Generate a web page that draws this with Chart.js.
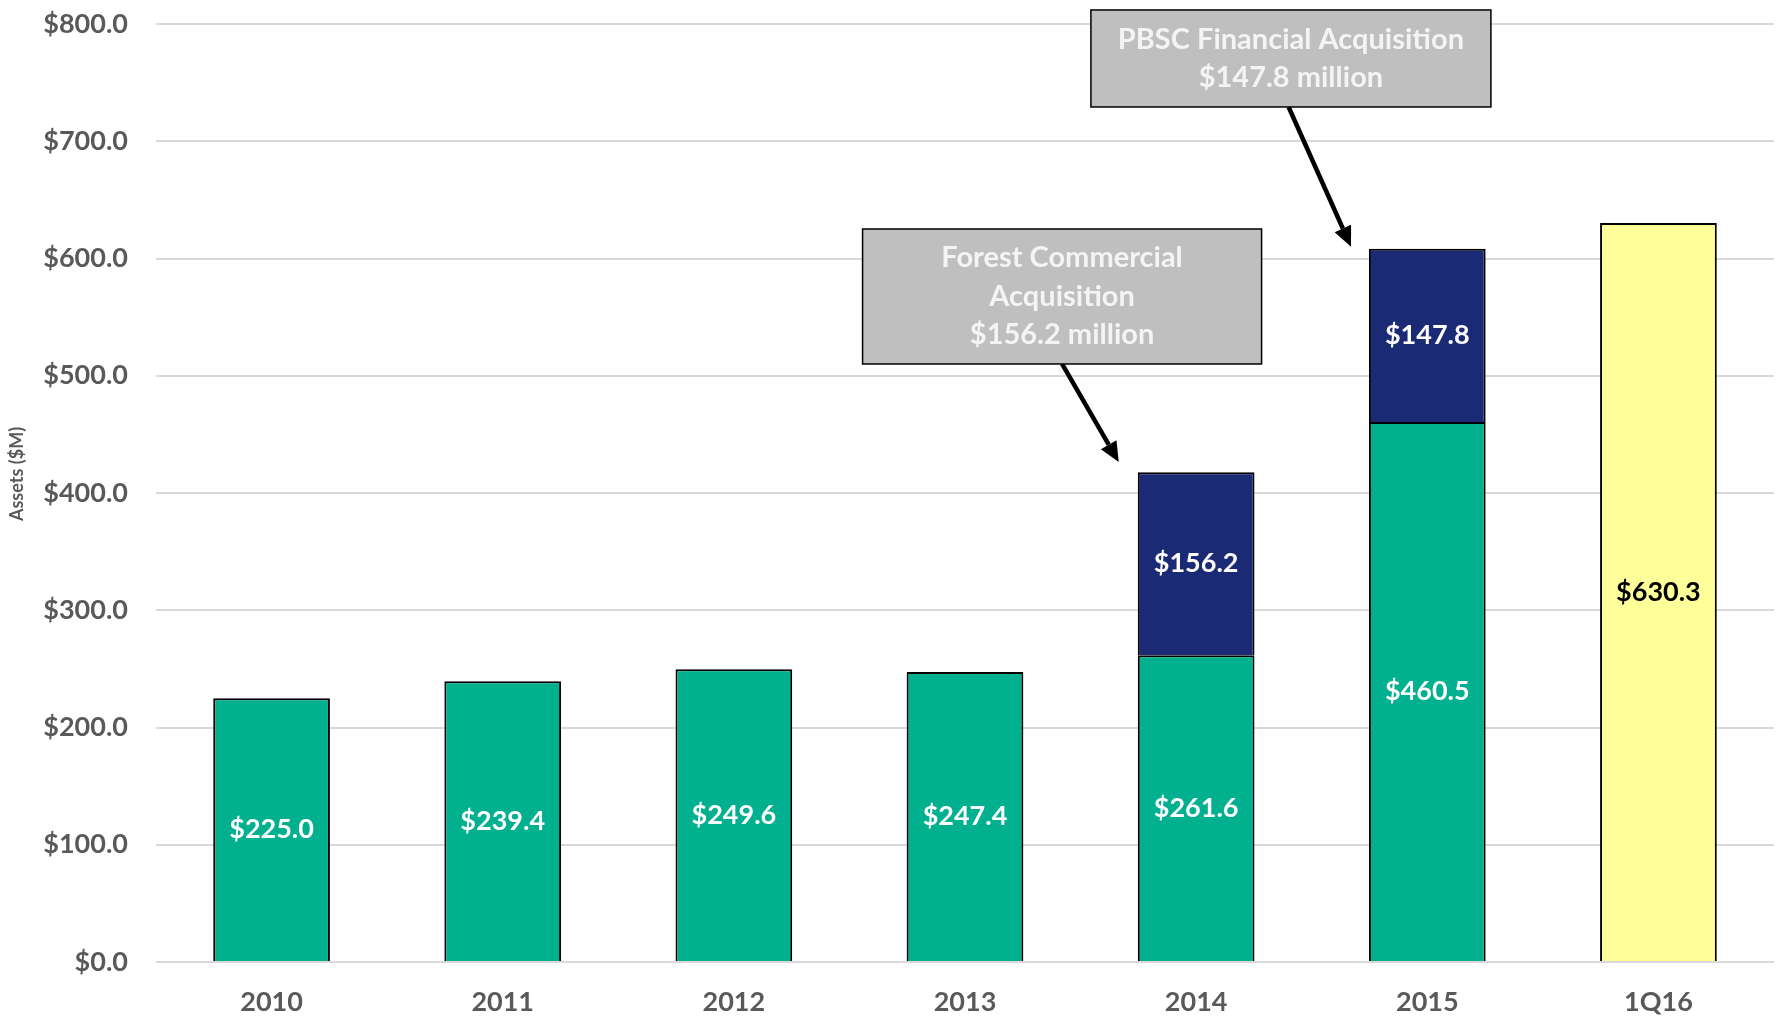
<!DOCTYPE html>
<html>
<head>
<meta charset="UTF-8">
<title>Assets</title>
<script src="https://cdn.jsdelivr.net/npm/chart.js@4.4.0/dist/chart.umd.min.js"></script>
<style>
  html, body { margin: 0; padding: 0; background: #fff; }
  #wrap { width: 1777px; height: 1023px; position: relative; }
</style>
</head>
<body>
<div id="wrap"><canvas id="grafico"></canvas></div>
<script>
// data
var categorias = ["2010", "2011", "2012", "2013", "2014", "2015", "1Q16"];
var organico   = [225.0, 239.4, 249.6, 247.4, 261.6, 460.5, null];
var aquisicoes = [null, null, null, null, 156.2, 147.8, null];
var trimestre  = [null, null, null, null, null, null, 630.3];
var yTicks     = [0, 100, 200, 300, 400, 500, 600, 700, 800];

// callout boxes: centre in (category index, value), arrow from box bottom to tip (index, value)
var chamadas = [
  { linhas: ["PBSC Financial Acquisition", "$147.8 million"], cx: 4.41, cy: 770.6, w: 400, h: 97,
    de: 4.40, para: [4.67, 610] },
  { linhas: ["Forest Commercial", "Acquisition", "$156.2 million"], cx: 3.42, cy: 567.6, w: 399, h: 135,
    de: 3.42, para: [3.665, 426.4] }
];

var fonte = "Lato, 'Open Sans', sans-serif";

var rotulos = {
  id: "rotulos",
  afterDatasetsDraw: function(chart) {
    var ctx = chart.ctx;
    ctx.save();
    ctx.font = "bold 27px " + fonte;
    ctx.textAlign = "center";
    ctx.textBaseline = "middle";
    chart.data.datasets.forEach(function(ds, i) {
      var meta = chart.getDatasetMeta(i);
      meta.data.forEach(function(bar, j) {
        var v = ds.data[j];
        if (v == null) return;
        ctx.fillStyle = ds.corTexto;
        ctx.fillText("$" + v.toFixed(1), bar.x, (bar.y + bar.base) / 2);
      });
    });
    ctx.restore();
  }
};

// y axis title, sits a little above the middle of the plot like the original
var tituloY = {
  id: "tituloY",
  afterDraw: function(chart) {
    var ctx = chart.ctx, a = chart.chartArea;
    ctx.save();
    ctx.translate(17, (a.top + a.bottom) / 2 - 19);
    ctx.rotate(-Math.PI / 2);
    ctx.font = "bold 18px " + fonte;
    ctx.fillStyle = "#595959";
    ctx.textAlign = "center";
    ctx.textBaseline = "middle";
    ctx.fillText("Assets ($M)", 0, 0);
    ctx.restore();
  }
};

var setas = {
  id: "setas",
  afterDraw: function(chart) {
    var ctx = chart.ctx, x = chart.scales.x, y = chart.scales.y;
    var px = function(i) { return x.getPixelForValue(0) + i * (x.getPixelForValue(1) - x.getPixelForValue(0)); };
    ctx.save();
    chamadas.forEach(function(c) {
      var cx = px(c.cx), cy = y.getPixelForValue(c.cy);
      var bx = cx - c.w / 2, by = cy - c.h / 2;
      // arrow
      var x0 = px(c.de), y0 = by + c.h;
      var x1 = px(c.para[0]), y1 = y.getPixelForValue(c.para[1]);
      var ang = Math.atan2(y1 - y0, x1 - x0);
      var hl = 20, hw = 9;
      var xb = x1 - hl * Math.cos(ang), yb = y1 - hl * Math.sin(ang);
      ctx.strokeStyle = "#000";
      ctx.lineWidth = 4.5;
      ctx.beginPath();
      ctx.moveTo(x0, y0);
      ctx.lineTo(xb, yb);
      ctx.stroke();
      ctx.fillStyle = "#000";
      ctx.beginPath();
      ctx.moveTo(x1, y1);
      ctx.lineTo(xb + hw * Math.sin(ang), yb - hw * Math.cos(ang));
      ctx.lineTo(xb - hw * Math.sin(ang), yb + hw * Math.cos(ang));
      ctx.closePath();
      ctx.fill();
      // box
      ctx.fillStyle = "#bfbfbf";
      ctx.fillRect(bx, by, c.w, c.h);
      ctx.lineWidth = 1.5;
      ctx.strokeRect(bx, by, c.w, c.h);
      ctx.fillStyle = "#f4f4f4";
      ctx.font = "bold 29px " + fonte;
      ctx.textAlign = "center";
      ctx.textBaseline = "middle";
      var lh = 38.5;
      var start = cy - (c.linhas.length - 1) * lh / 2;
      c.linhas.forEach(function(t, k) { ctx.fillText(t, cx, start + k * lh); });
    });
    ctx.restore();
  }
};

var ctx = document.getElementById("grafico");
new Chart(ctx, {
  type: "bar",
  data: {
    labels: categorias,
    datasets: [
      { label: "Organic", data: organico, backgroundColor: "#00b08f", corTexto: "#ffffff" },
      { label: "Acquired", data: aquisicoes, backgroundColor: "#1b2a74", corTexto: "#ffffff" },
      { label: "1Q16", data: trimestre, backgroundColor: "#ffff99", corTexto: "#000000" }
    ]
  },
  options: {
    responsive: true,
    maintainAspectRatio: false,
    animation: false,
    datasets: {
      bar: { borderColor: "#000", borderWidth: 2, borderSkipped: "bottom", categoryPercentage: 1, barPercentage: 0.505 }
    },
    layout: { padding: { top: 24, right: 3, left: 0, bottom: 0 } },
    plugins: { legend: { display: false }, tooltip: { enabled: false } },
    scales: {
      x: {
        stacked: true,
        grid: { display: false },
        border: { display: false },
        ticks: { color: "#595959", font: { family: fonte, size: 27, weight: "bold" }, padding: 16 },
        afterFit: function(s) { s.height = 61; }
      },
      y: {
        stacked: true,
        min: 0, max: 800,
        afterBuildTicks: function(s) { s.ticks = yTicks.map(function(v) { return { value: v }; }); },
        grid: { color: "#d9d9d9", lineWidth: 2, drawTicks: false },
        border: { display: false },
        ticks: {
          color: "#595959", padding: 28,
          font: { family: fonte, size: 27, weight: "bold" },
          callback: function(v) { return "$" + Number(v).toFixed(1); }
        },
        afterFit: function(s) { s.width = 156; s.paddingTop = 0; s.paddingBottom = 0; }
      }
    }
  },
  plugins: [rotulos, setas, tituloY]
});
</script>
</body>
</html>
